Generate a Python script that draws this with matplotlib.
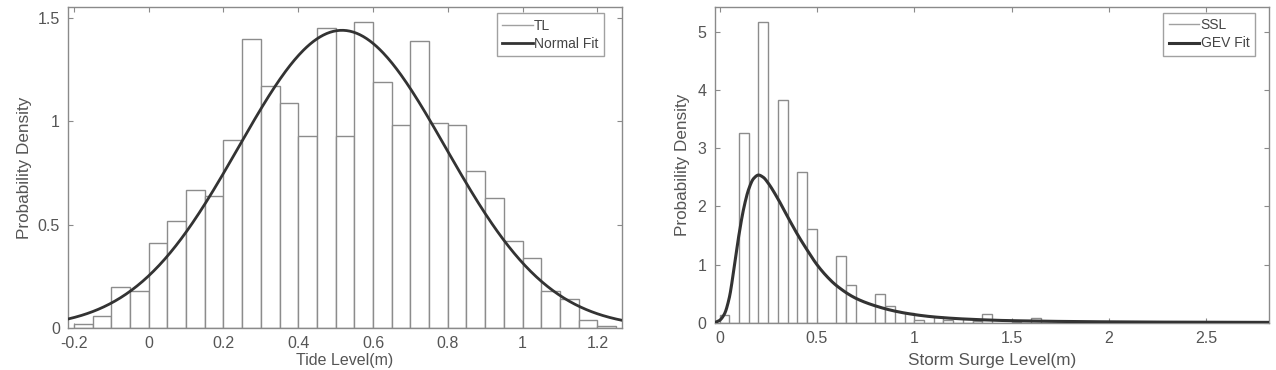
import numpy as np
import matplotlib
matplotlib.use("Agg")
import matplotlib.pyplot as plt
from matplotlib.lines import Line2D
from matplotlib.ticker import FuncFormatter

plt.rcParams['font.family'] = ['Liberation Sans', 'DejaVu Sans']

# ---------------- data ----------------
tide_bin_left = [-0.20, -0.15, -0.10, -0.05, 0.00, 0.05, 0.10, 0.15, 0.20, 0.25,
                 0.30, 0.35, 0.40, 0.45, 0.50, 0.55, 0.60, 0.65, 0.70, 0.75,
                 0.80, 0.85, 0.90, 0.95, 1.00, 1.05, 1.10, 1.15, 1.20]
tide_density = [0.02, 0.06, 0.20, 0.18, 0.41, 0.52, 0.67, 0.64, 0.91, 1.40,
                1.17, 1.09, 0.93, 1.45, 0.93, 1.48, 1.19, 0.98, 1.39, 0.99,
                0.98, 0.76, 0.63, 0.42, 0.34, 0.18, 0.14, 0.04, 0.01]
tide_bin_width = 0.05
normal_mu = 0.517
normal_sigma = 0.277

surge_bin_left = [0.00, 0.05, 0.10, 0.15, 0.20, 0.25, 0.30, 0.35, 0.40, 0.45,
                  0.50, 0.55, 0.60, 0.65, 0.70, 0.75, 0.80, 0.85, 0.90, 0.95,
                  1.00, 1.05, 1.10, 1.15, 1.20, 1.25, 1.30, 1.35, 1.40, 1.45,
                  1.50, 1.55, 1.60, 1.65, 1.70, 1.75, 1.80, 1.85, 1.90, 1.95,
                  2.00, 2.05, 2.10]
surge_density = [0.14, 0.00, 3.26, 0.00, 5.17, 0.00, 3.83, 0.00, 2.59, 1.61,
                 0.00, 0.00, 1.15, 0.65, 0.00, 0.00, 0.49, 0.28, 0.00, 0.16,
                 0.05, 0.00, 0.10, 0.05, 0.00, 0.07, 0.03, 0.15, 0.00, 0.00,
                 0.02, 0.00, 0.08, 0.00, 0.00, 0.00, 0.00, 0.00, 0.00, 0.00,
                 0.00, 0.00, 0.02]
surge_bin_width = 0.05
# GEV fit curve
gev_x = [-0.025, 0.0, 0.025, 0.05, 0.075, 0.10, 0.125, 0.15, 0.175, 0.20,
         0.225, 0.25, 0.30, 0.35, 0.40, 0.45, 0.50, 0.55, 0.60, 0.70,
         0.80, 0.90, 1.00, 1.10, 1.25, 1.50, 2.00, 2.50, 2.82]
gev_y = [0.00, 0.04, 0.15, 0.43, 0.95, 1.52, 1.98, 2.30, 2.48, 2.54,
         2.50, 2.40, 2.13, 1.82, 1.52, 1.25, 1.00, 0.80, 0.64, 0.42,
         0.29, 0.20, 0.14, 0.10, 0.065, 0.035, 0.015, 0.008, 0.006]

tide_xticks = [-0.2, 0, 0.2, 0.4, 0.6, 0.8, 1.0, 1.2]
tide_yticks = [0, 0.5, 1, 1.5]
surge_xticks = [0, 0.5, 1, 1.5, 2, 2.5]
surge_yticks = [0, 1, 2, 3, 4, 5]

# ---------------- style ----------------
TEXT = '#555555'
SPINE = '#8a8a8a'
BAR_EDGE = '#8c8c8c'
CURVE = '#333333'
fmt = FuncFormatter(lambda v, p: '%g' % round(v, 6))


def style_axes(ax):
    for s in ax.spines.values():
        s.set_color(SPINE)
        s.set_linewidth(1.0)
    ax.tick_params(direction='in', length=3.5, width=0.8, color=SPINE,
                   top=True, right=True, labelsize=11.5, labelcolor=TEXT, pad=6)
    ax.xaxis.set_major_formatter(fmt)
    ax.yaxis.set_major_formatter(fmt)


def normal_pdf(x, mu, s):
    return np.exp(-0.5 * ((x - mu) / s) ** 2) / (s * np.sqrt(2 * np.pi))


def smooth_curve(xp, yp, n=1200):
    # monotone cubic (PCHIP) line through the read points
    xp = np.asarray(xp, float)
    yp = np.asarray(yp, float)
    h = np.diff(xp)
    d = np.diff(yp) / h
    m = np.zeros_like(yp)
    for i in range(1, len(xp) - 1):
        if d[i - 1] * d[i] > 0:
            w1 = 2 * h[i] + h[i - 1]
            w2 = h[i] + 2 * h[i - 1]
            m[i] = (w1 + w2) / (w1 / d[i - 1] + w2 / d[i])
    m[0] = d[0]
    m[-1] = d[-1]
    xs = np.linspace(xp[0], xp[-1], n)
    idx = np.clip(np.searchsorted(xp, xs) - 1, 0, len(xp) - 2)
    t = (xs - xp[idx]) / h[idx]
    h00 = 2 * t ** 3 - 3 * t ** 2 + 1
    h10 = t ** 3 - 2 * t ** 2 + t
    h01 = -2 * t ** 3 + 3 * t ** 2
    h11 = t ** 3 - t ** 2
    ys = (h00 * yp[idx] + h10 * h[idx] * m[idx] + h01 * yp[idx + 1]
          + h11 * h[idx] * m[idx + 1])
    return xs, ys


fig = plt.figure(figsize=(12.76, 3.70), dpi=100)

# ---------------- left panel ----------------
ax1 = fig.add_axes([0.0535, 0.1135, 0.4337, 0.8676])
ax1.bar(tide_bin_left, tide_density, width=tide_bin_width, align='edge',
        facecolor='white', edgecolor=BAR_EDGE, linewidth=1.0, zorder=2)
xl1 = (-0.215, 1.265)
xs = np.linspace(xl1[0], xl1[1], 500)
ax1.plot(xs, normal_pdf(xs, normal_mu, normal_sigma), color=CURVE, lw=2.0, zorder=3)
ax1.set_xlim(*xl1)
ax1.set_ylim(0, 1.553)
ax1.set_xticks(tide_xticks)
ax1.set_yticks(tide_yticks)
style_axes(ax1)
ax1.set_xlabel('Tide Level(m)', fontsize=11.5, color=TEXT, labelpad=1)
ax1.set_ylabel('Probability Density', fontsize=12.3, color=TEXT, labelpad=4)
h1 = [Line2D([], [], color='#a0a0a0', lw=1.0), Line2D([], [], color=CURVE, lw=2.0)]
leg1 = ax1.legend(h1, ['TL', 'Normal Fit'], loc='upper right',
                  bbox_to_anchor=(0.968, 0.981), borderaxespad=0, fontsize=10,
                  frameon=True, fancybox=False, handlelength=2.2, handletextpad=0.1,
                  labelspacing=0.3, borderpad=0.4)
leg1.get_frame().set_edgecolor(SPINE)
leg1.get_frame().set_linewidth(1.0)
for t in leg1.get_texts():
    t.set_color('#444444')

# ---------------- right panel ----------------
ax2 = fig.add_axes([0.5601, 0.1278, 0.4341, 0.8532])
ax2.bar(surge_bin_left, surge_density, width=surge_bin_width, align='edge',
        facecolor='white', edgecolor=BAR_EDGE, linewidth=1.0, zorder=2)
xl2 = (-0.025, 2.82)
gx, gy = smooth_curve(gev_x, gev_y)
ax2.plot(gx, gy, color=CURVE, lw=2.2, zorder=3)
ax2.set_xlim(*xl2)
ax2.set_ylim(0, 5.43)
ax2.set_xticks(surge_xticks)
ax2.set_yticks(surge_yticks)
style_axes(ax2)
ax2.set_xlabel('Storm Surge Level(m)', fontsize=12.3, color=TEXT, labelpad=5)
ax2.set_ylabel('Probability Density', fontsize=12.3, color=TEXT, labelpad=5)
h2 = [Line2D([], [], color='#a0a0a0', lw=1.0), Line2D([], [], color=CURVE, lw=2.2)]
leg2 = ax2.legend(h2, ['SSL', 'GEV Fit'], loc='upper right',
                  bbox_to_anchor=(0.9755, 0.982), borderaxespad=0, fontsize=10,
                  frameon=True, fancybox=False, handlelength=2.2, handletextpad=0.1,
                  labelspacing=0.3, borderpad=0.4)
leg2.get_frame().set_edgecolor(SPINE)
leg2.get_frame().set_linewidth(1.0)
for t in leg2.get_texts():
    t.set_color('#444444')

fig.savefig('out.png', dpi=100, facecolor='white')
